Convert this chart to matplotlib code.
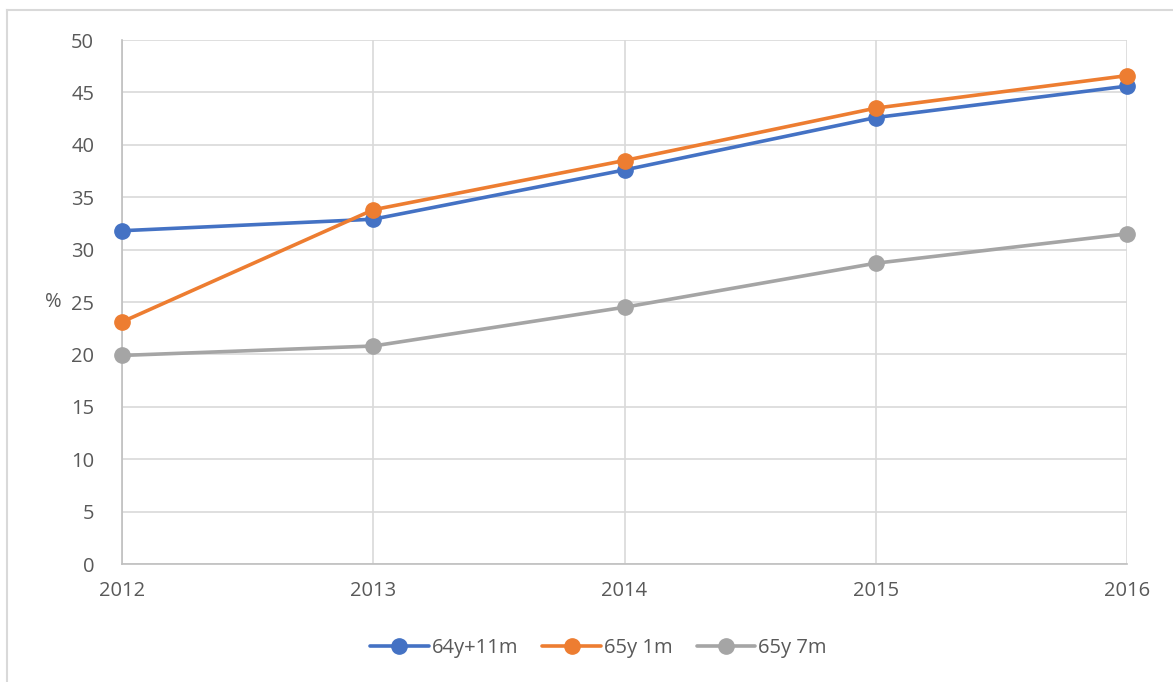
import matplotlib

matplotlib.use("Agg")
import matplotlib.pyplot as plt
from matplotlib.lines import Line2D

years = ["2012", "2013", "2014", "2015", "2016"]
series_names = ["64y+11m", "65y 1m", "65y 7m"]
blue_vals = [31.8, 32.9, 37.6, 42.6, 45.6]
orange_vals = [23.1, 33.8, 38.5, 43.5, 46.6]
gray_vals = [19.9, 20.8, 24.5, 28.7, 31.5]
colors = ["#4472C4", "#ED7D31", "#A5A5A5"]
y_ticks = list(range(0, 51, 5))

plt.rcParams["font.family"] = ["Open Sans", "DejaVu Sans"]
fs = 14.5

fig = plt.figure(figsize=(11.73, 6.82), dpi=100)
ax = fig.add_axes([122 / 1173, 1 - 564 / 682, (1127 - 122) / 1173, (564 - 40) / 682])

x = list(range(len(years)))
for vals, name, c in zip([blue_vals, orange_vals, gray_vals], series_names, colors):
    ax.plot(x, vals, color=c, lw=2.6, marker="o", ms=11, label=name,
            solid_capstyle="round", zorder=3, clip_on=False)

ax.set_xlim(0, len(years) - 1)
ax.set_ylim(0, 50)
ax.set_xticks(x)
ax.set_xticklabels(years)
ax.set_yticks(y_ticks)
ax.grid(True, color="#D9D9D9", lw=1.2)
ax.set_axisbelow(True)
for s in ["top", "right"]:
    ax.spines[s].set_visible(False)
for s in ["left", "bottom"]:
    ax.spines[s].set_color("#BFBFBF")
    ax.spines[s].set_linewidth(1.2)
ax.tick_params(length=0, labelsize=fs, labelcolor="#595959")
ax.tick_params(axis="y", pad=20)
ax.tick_params(axis="x", pad=12)

fig.text(53 / 1173, 1 - 302 / 682, "%", fontsize=fs, color="#595959",
         ha="center", va="center")

ax.legend(loc="center", bbox_to_anchor=(0.474, -0.16), ncol=3, frameon=False,
          fontsize=fs, labelcolor="#595959", handlelength=2.9,
          handletextpad=0.15, columnspacing=1.2)

# outer chart border (cropped on right/bottom)
fig.add_artist(Line2D([7 / 1173, 7 / 1173], [0, 1 - 10 / 682], color="#D9D9D9",
                      lw=1.5, transform=fig.transFigure))
fig.add_artist(Line2D([7 / 1173, 1], [1 - 10 / 682, 1 - 10 / 682], color="#D9D9D9",
                      lw=1.5, transform=fig.transFigure))

fig.savefig("out.png", dpi=100)
